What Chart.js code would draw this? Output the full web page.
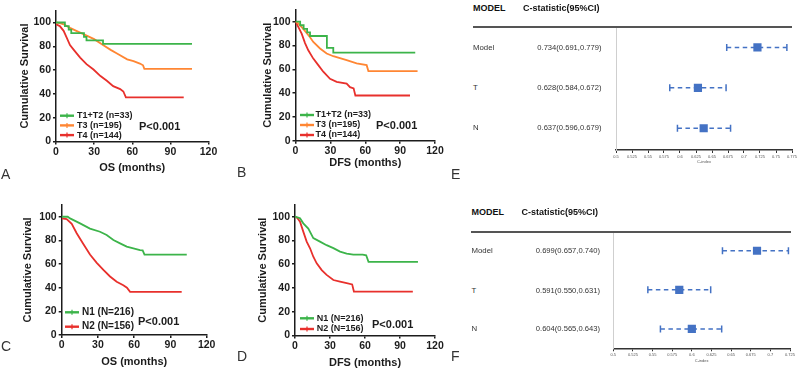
<!DOCTYPE html>
<html>
<head>
<meta charset="utf-8">
<script src="https://cdn.jsdelivr.net/npm/chart.js@4.4.1/dist/chart.umd.min.js"></script>
<style>
  body { margin: 0; background: #fff; width: 800px; height: 372px; position: relative; overflow: hidden;
         font-family: "Liberation Sans", Arial, sans-serif; }
  canvas { position: absolute; }
  .txt { position: absolute; white-space: nowrap; line-height: 10px; color: #333; }
  .hdr { font-weight: bold; font-size: 9px; color: #111; }
  .row { font-size: 7.8px; }
  .val { font-size: 7.6px; text-align: right; width: 90px; }
  .rule { position: absolute; height: 2px; background: #555; }
  .letter { position: absolute; font-size: 14px; line-height: 15px; color: #333; }
</style>
</head>
<body>
<canvas id="kmA" width="225" height="185" style="left:0;top:0"></canvas>
<canvas id="kmB" width="215" height="185" style="left:240px;top:0"></canvas>
<canvas id="kmC" width="225" height="187" style="left:0;top:185px"></canvas>
<canvas id="kmD" width="215" height="187" style="left:240px;top:185px"></canvas>
<canvas id="forestE" width="200" height="185" style="left:600px;top:0"></canvas>
<canvas id="forestF" width="200" height="187" style="left:600px;top:185px"></canvas>

<div class="letter" style="left:1px;top:167px">A</div>
<div class="letter" style="left:237px;top:165px">B</div>
<div class="letter" style="left:451px;top:167px">E</div>
<div class="letter" style="left:1px;top:339px">C</div>
<div class="letter" style="left:237px;top:349px">D</div>
<div class="letter" style="left:451px;top:349px">F</div>

<script>
// ---- survival curves (months, % surviving) ----
// A: OS by T stage
const osT12Time = [0, 7, 10, 12, 22, 24, 37, 107];
const osT12Surv = [100, 97, 94, 91, 88, 85, 82, 82];
const osT3Time = [0, 3, 6, 11, 16, 22, 30, 37, 43, 48, 56, 61, 66, 68.5, 69.5, 107];
const osT3Surv = [100, 99.5, 98.5, 95.5, 93, 90, 86, 81, 77, 74, 69, 67.5, 65.5, 64, 61, 61];
const osT4Time = [0, 3, 6, 8.5, 11, 14, 19, 24, 29.5, 35, 40, 45, 50.5, 53, 55, 100.5];
const osT4Surv = [98.5, 97, 93, 87, 81, 77, 70.5, 65, 60.5, 55, 51, 46.5, 44, 42, 37, 37];

// B: DFS by T stage
const dfsT12Time = [0, 4, 7, 10, 12.5, 27, 32.5, 103];
const dfsT12Surv = [100, 97, 94, 91, 88, 78, 74, 74];
const dfsT3Time = [0, 2, 6.7, 12.5, 15.3, 21.1, 26.8, 32.5, 44, 52.6, 61.2, 62.7, 105];
const dfsT3Surv = [100, 99, 94, 87, 83, 77.5, 73.3, 71, 67.7, 65, 63.5, 58.5, 58.5];
const dfsT4Time = [0, 2.4, 5.3, 8.2, 11, 15.3, 19.6, 23.9, 29.7, 35.4, 44, 46.9, 50, 51.5, 98.5];
const dfsT4Surv = [100, 95.7, 90, 82, 76, 69, 63.5, 58, 52, 49.5, 48, 45, 44, 38, 38];

// C: OS by N stage
const osN1Time = [0, 5, 6.9, 15.2, 23.4, 31.7, 37.2, 42.8, 48.3, 53.8, 59.3, 64.8, 67, 68.5, 103.5];
const osN1Surv = [100, 100, 98.6, 94.4, 90, 87.3, 84.5, 80.3, 77.5, 74.7, 73.3, 71.8, 71.5, 68, 68];
const osN2Time = [0, 4.1, 8.3, 12.4, 17.9, 23.4, 29, 34.5, 40, 45.5, 51, 54, 56.6, 99.3];
const osN2Surv = [98.6, 98, 94, 86, 77, 68, 61, 55, 49.5, 45, 42, 40, 36.5, 36.5];

// D: DFS by N stage
const dfsN1Time = [0, 2, 4.3, 7.1, 11.4, 15.7, 21.4, 27.1, 32.9, 38.6, 44.3, 50, 58, 61, 63, 105.4];
const dfsN1Surv = [100, 99.5, 98.6, 94.4, 90, 82, 79, 76, 73.5, 70.6, 69, 68, 68, 67.5, 62, 62];
const dfsN2Time = [0, 2, 4.3, 7.1, 10, 12.9, 15.7, 18.6, 22.9, 27.1, 32.9, 38.6, 44.3, 49, 50.5, 101];
const dfsN2Surv = [100, 99, 95.8, 87.4, 79, 73.4, 66.3, 60.7, 55, 51, 46.7, 45.3, 44, 43, 37, 37];

const tLabels = ['T1+T2 (n=33)', 'T3 (n=195)', 'T4 (n=144)'];
const nLabels = ['N1 (N=216)', 'N2 (N=156)'];
const pText = 'P<0.001';

// ---- C-statistic forest plots (marks as drawn in the figure) ----
const forestRows = ['Model', 'T', 'N'];
const cStatTextE = ['0.734(0.691,0.779)', '0.628(0.584,0.672)', '0.637(0.596,0.679)'];
const estE = [0.721, 0.628, 0.637];
const lowE = [0.673, 0.584, 0.596];
const highE = [0.767, 0.672, 0.679];
const cStatTextF = ['0.699(0.657,0.740)', '0.591(0.550,0.631)', '0.604(0.565,0.643)'];
const estF = [0.683, 0.584, 0.600];
const lowF = [0.639, 0.544, 0.560];
const highF = [0.723, 0.624, 0.638];

const GREEN = '#3cb44a', ORANGE = '#ff8633', RED = '#e8302c', BLUE = '#4472c4';
const ink = '#1c1c1c';
const FAM = '"Liberation Sans", Arial, sans-serif';
const tickFont = { family: FAM, weight: 'bold', size: 10.5 };
const titleFont = { family: FAM, weight: 'bold', size: 11 };

// legend + p value drawn inside the plot area
const kmLegend = {
  id: 'kmLegend',
  afterDraw(chart, args, o) {
    const { ctx, chartArea: a } = chart;
    ctx.save();
    ctx.textBaseline = 'middle';
    ctx.font = 'bold ' + o.size + 'px ' + FAM;
    chart.data.datasets.forEach((ds, i) => {
      const x = a.left + o.x, y = a.bottom - o.y0 + i * o.gap;
      ctx.strokeStyle = ds.borderColor;
      ctx.lineWidth = 2.4;
      ctx.beginPath();
      ctx.moveTo(x, y); ctx.lineTo(x + 14, y);
      ctx.stroke();
      ctx.lineWidth = 1.2;
      ctx.beginPath();
      ctx.moveTo(x + 7, y - 2.5); ctx.lineTo(x + 7, y + 2.5);
      ctx.stroke();
      ctx.fillStyle = ink;
      ctx.fillText(ds.label, a.left + o.tx, y);
    });
    ctx.font = 'bold 11px ' + FAM;
    ctx.fillText(pText, a.left + o.px, a.bottom - o.py);
    ctx.restore();
  }
};

function km(id, series, g) {
  const datasets = series.map(s => ({
    label: s.label,
    data: s.time.map((t, i) => ({ x: t, y: s.surv[i] })),
    borderColor: s.color,
    borderWidth: 1.8,
    pointRadius: 0,
    stepped: s.stepped ? 'before' : false,
    tension: 0,
    fill: false
  }));
  return new Chart(document.getElementById(id), {
    type: 'line',
    data: { datasets: datasets },
    options: {
      responsive: false,
      animation: false,
      events: [],
      layout: { padding: { left: 0, top: g.top, right: g.right, bottom: 0 } },
      plugins: { legend: { display: false }, tooltip: { enabled: false }, kmLegend: g.legend },
      scales: {
        x: {
          type: 'linear', min: 0, max: 120,
          ticks: { stepSize: 30, font: tickFont, color: ink, padding: 1, maxRotation: 0 },
          grid: { drawOnChartArea: false, color: ink, tickLength: 3, lineWidth: 1.5 },
          border: { color: ink, width: 1.5 },
          title: { display: true, text: g.xTitle, font: titleFont, color: ink, padding: { top: 0, bottom: g.xTitlePad } },
          afterFit: s => { s.height = g.xh; }
        },
        y: {
          type: 'linear', min: 0, max: 110,
          ticks: { stepSize: 20, includeBounds: false, font: tickFont, color: ink, padding: 2 },
          grid: { drawOnChartArea: false, color: ink, tickLength: 3, lineWidth: 1.5 },
          border: { color: ink, width: 1.5 },
          title: { display: true, text: 'Cumulative Survival', font: titleFont, color: ink, padding: { top: g.yTitlePad, bottom: 0 } },
          afterFit: s => { s.width = g.yw; }
        }
      }
    },
    plugins: [kmLegend]
  });
}

km('kmA', [
  { label: tLabels[0], time: osT12Time, surv: osT12Surv, color: GREEN, stepped: true },
  { label: tLabels[1], time: osT3Time, surv: osT3Surv, color: ORANGE },
  { label: tLabels[2], time: osT4Time, surv: osT4Surv, color: RED }
], { top: 10.6, right: 16.5, xh: 43.5, yw: 56, xTitle: 'OS (months)', xTitlePad: 10.1, yTitlePad: 18.4,
     legend: { size: 9, x: 4, tx: 21, y0: 25.8, gap: 9.7, px: 83, py: 15 } });

km('kmB', [
  { label: tLabels[0], time: dfsT12Time, surv: dfsT12Surv, color: GREEN, stepped: true },
  { label: tLabels[1], time: dfsT3Time, surv: dfsT3Surv, color: ORANGE },
  { label: tLabels[2], time: dfsT4Time, surv: dfsT4Surv, color: RED }
], { top: 9.8, right: 20, xh: 44.3, yw: 55.5, xTitle: 'DFS (months)', xTitlePad: 15.1, yTitlePad: 21.7,
     legend: { size: 9, x: 4.5, tx: 20, y0: 25.7, gap: 10, px: 80.5, py: 14.7 } });

km('kmC', [
  { label: nLabels[0], time: osN1Time, surv: osN1Surv, color: GREEN },
  { label: nLabels[1], time: osN2Time, surv: osN2Surv, color: RED }
], { top: 19.9, right: 18.3, xh: 37, yw: 61.7, xTitle: 'OS (months)', xTitlePad: 3.7, yTitlePad: 21.7,
     legend: { size: 10, x: 3.3, tx: 20.3, y0: 22.7, gap: 14.4, px: 76.3, py: 13.3 } });

km('kmD', [
  { label: nLabels[0], time: dfsN1Time, surv: dfsN1Surv, color: GREEN },
  { label: nLabels[1], time: dfsN2Time, surv: dfsN2Surv, color: RED }
], { top: 19.8, right: 20, xh: 36.5, yw: 55, xTitle: 'DFS (months)', xTitlePad: 2.7, yTitlePad: 16.7,
     legend: { size: 9, x: 5, tx: 21.7, y0: 17.2, gap: 10.7, px: 77, py: 10.5 } });

function forest(id, lo, est, hi, xMax, g) {
  const datasets = forestRows.map((name, i) => ({
    label: name,
    data: [{ x: lo[i], y: i }, { x: hi[i], y: i }],
    borderColor: BLUE, borderWidth: 1.5, borderDash: [4.5, 3.5],
    pointStyle: 'line', rotation: 90, pointRadius: 3.5,
    pointBorderWidth: 1.5, pointBorderColor: BLUE
  }));
  datasets.push({
    label: 'C-index',
    data: est.map((v, i) => ({ x: v, y: i })),
    showLine: false, pointStyle: 'rect', pointRadius: 5.8,
    pointBackgroundColor: BLUE, pointBorderColor: BLUE, pointBorderWidth: 0
  });
  const small = { family: FAM, size: 4 };
  return new Chart(document.getElementById(id), {
    type: 'line',
    data: { datasets: datasets },
    options: {
      responsive: false,
      animation: false,
      events: [],
      layout: { padding: { left: 0, top: g.top, right: g.right, bottom: 0 } },
      plugins: { legend: { display: false }, tooltip: { enabled: false } },
      scales: {
        x: {
          type: 'linear', min: 0.5, max: xMax,
          ticks: { stepSize: 0.025, autoSkip: false, maxRotation: 0, font: small, color: '#555', padding: 1,
                   callback: v => +v.toFixed(3) },
          grid: { drawOnChartArea: false, color: '#333', tickLength: 3, lineWidth: 1 },
          border: { color: '#333', width: 1.5 },
          title: { display: true, text: 'C-index', font: small, color: '#555', padding: { top: 0, bottom: g.xTitlePad } },
          afterFit: s => { s.height = g.xh; }
        },
        y: {
          type: 'linear', reverse: true, min: g.ymin, max: g.ymax,
          ticks: { display: false },
          grid: { display: false },
          border: { color: '#cfcfcf', width: 1 },
          afterFit: s => { s.width = g.yw; }
        }
      }
    }
  });
}

forest('forestE', lowE, estE, highE, 0.775,
  { top: 26.7, right: 8, xh: 35, yw: 16, xTitlePad: 20.3, ymin: -0.514, ymax: 2.538 });
forest('forestF', lowF, estF, highF, 0.725,
  { top: 46.7, right: 10, xh: 23.7, yw: 13.3, xTitlePad: 8.6, ymin: -0.487, ymax: 2.495 });

// table text beside the forest plots
function table(top, left, statLeft, valRight, lineY, lineL, lineR, rowsY, texts) {
  const add = (cls, txt, x, y) => {
    const d = document.createElement('div');
    d.className = 'txt ' + cls;
    d.textContent = txt;
    d.style.left = x + 'px';
    d.style.top = (y - 5) + 'px';
    document.body.appendChild(d);
  };
  add('hdr', 'MODEL', left, top);
  add('hdr', 'C-statistic(95%CI)', statLeft, top);
  const r = document.createElement('div');
  r.className = 'rule';
  r.style.left = lineL + 'px';
  r.style.top = (lineY - 1) + 'px';
  r.style.width = (lineR - lineL) + 'px';
  document.body.appendChild(r);
  forestRows.forEach((name, i) => {
    add('row', name, left, rowsY[i]);
    add('val', texts[i], valRight - 90, rowsY[i]);
  });
}
table(8, 473, 523, 601.5, 26.7, 473, 792, [47.7, 88.3, 128.3], cStatTextE);
table(212.3, 471.5, 521.5, 600, 231.7, 471, 791, [251, 290.5, 329], cStatTextF);
</script>
</body>
</html>
